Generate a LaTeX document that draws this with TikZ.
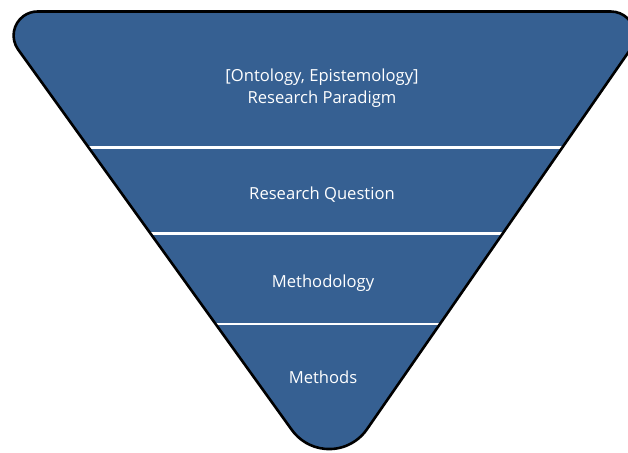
\documentclass[tikz,border=0pt]{standalone}
\usepackage{fontspec}
\setmainfont{Open Sans}
\definecolor{funnelblue}{HTML}{366092}
\tikzset{
  funnel/.style={fill=funnelblue, draw=black, line width=2.6pt, line join=round},
  divider/.style={draw=white, line width=2.4pt},
  label/.style={text=white, font=\fontsize{16.6}{22}\selectfont, align=center, inner sep=0pt}
}
\begin{document}
\begin{tikzpicture}[x=1pt,y=1pt,yscale=-1]
\useasboundingbox (0,0) rectangle (628,452);
% funnel body (filled first)
\fill[funnelblue] (37.6,11.5) -- (610.8,11.5) arc[start angle=-90, end angle=34.7, radius=24]
  -- (366.5,429.9) arc[start angle=35.7, end angle=145.3, radius=46]
  -- (18.1,49.5) arc[start angle=144.3, end angle=270, radius=24] -- cycle;
% divider end points
\coordinate (l1) at (88.2,147.3);  \coordinate (r1) at (562.5,147.3);
\coordinate (l2) at (149.9,233.3); \coordinate (r2) at (502.9,233.3);
\coordinate (l3) at (215.0,324.0); \coordinate (r3) at (440.0,324.0);
\draw[divider] (l1) -- (r1);
\draw[divider] (l2) -- (r2);
\draw[divider] (l3) -- (r3);
% outline
\draw[funnel, fill=none] (37.6,11.5) -- (610.8,11.5) arc[start angle=-90, end angle=34.7, radius=24]
  -- (366.5,429.9) arc[start angle=35.7, end angle=145.3, radius=46]
  -- (18.1,49.5) arc[start angle=144.3, end angle=270, radius=24] -- cycle;
% labels
\node[label] (paradigm) at (322,88) {[Ontology, Epistemology]\\Research Paradigm};
\node[label] (question) at (322,195) {Research Question};
\node[label] (methodology) at (323,283) {Methodology};
\node[label] (methods) at (323,377) {Methods};
\end{tikzpicture}
\end{document}
